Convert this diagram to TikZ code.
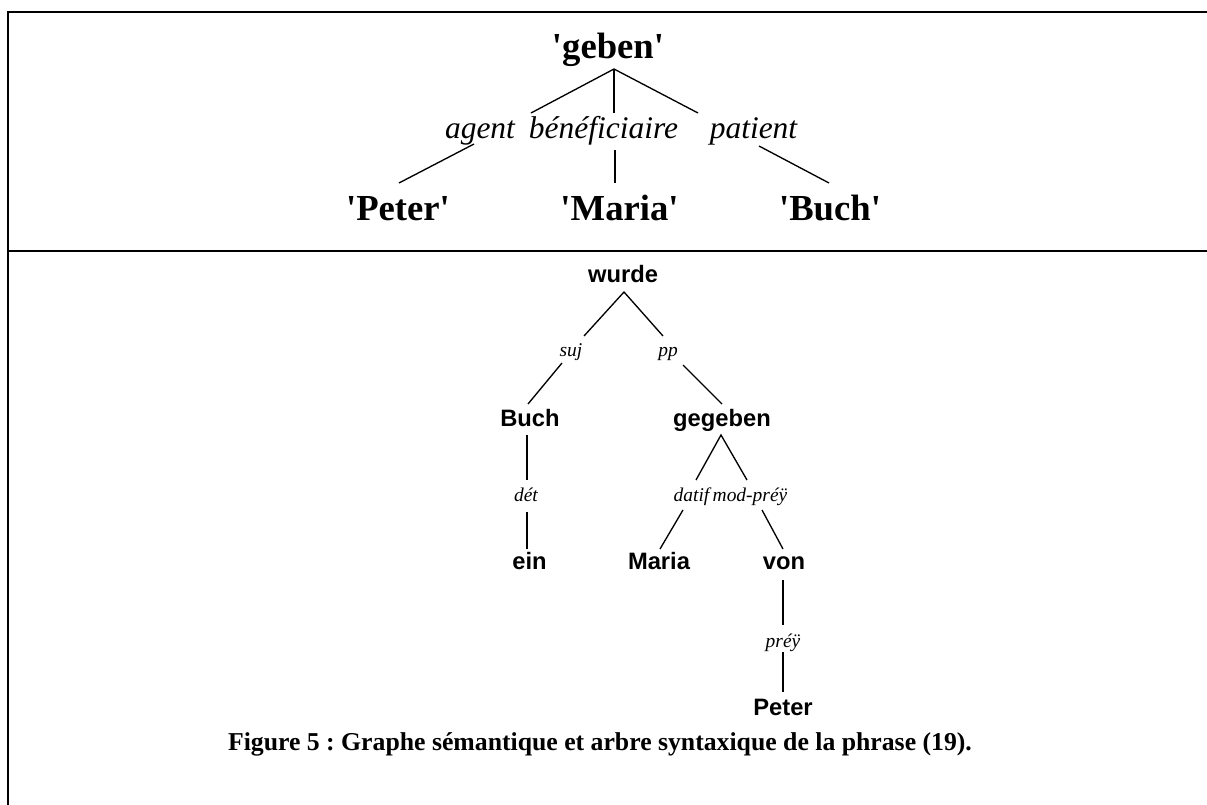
\documentclass[tikz,border=0pt]{standalone}
\usepackage{fontspec}
\setmainfont{Liberation Serif}
% plain families (no TeX ligatures) keep the straight quotes
\newfontfamily\timesfont{Liberation Serif}
\newfontfamily\arialfont{Liberation Sans}
\frenchspacing

\begin{document}
\begin{tikzpicture}[x=0.75pt,y=-0.75pt,
  sem/.style={font=\timesfont\fontsize{27.5}{30}\selectfont\bfseries, inner sep=0pt, anchor=base},
  semrel/.style={font=\timesfont\fontsize{23.6}{26}\selectfont\itshape, inner sep=0pt, anchor=base},
  syn/.style={font=\arialfont\fontsize{17.8}{20}\selectfont\bfseries, inner sep=0pt, anchor=base},
  synrel/.style={font=\timesfont\fontsize{14.6}{16}\selectfont\itshape, inner sep=0pt, anchor=base},
  caption/.style={font=\timesfont\fontsize{19.3}{22}\selectfont\bfseries, inner sep=0pt, anchor=base},
  edge/.style={line width=1pt},
  frame/.style={line width=1.4pt}]
\useasboundingbox (0,0) rectangle (1207,805);
\fill[white] (0,0) rectangle (1207,805);

% frame of the two panels
\draw[frame] (1207,12.3) -- (7.7,12.3) -- (7.7,805);
\draw[frame] (7.7,251) -- (1207,251);

% ---- semantic graph ----
\node[sem] (geben) at (608,59) {'geben'};
\node[sem] (peter) at (398,221) {'Peter'};
\node[sem] (maria) at (619.5,221) {'Maria'};
\node[sem] (buch)  at (830,221) {'Buch'};
\node[semrel] (agent) at (480,139) {agent};
\node[semrel] (benef) at (603.5,139) {bénéficiaire};
\node[semrel] (patient) at (753.5,139) {patient};

\coordinate (g-top) at (614,69);
\coordinate (ag-in) at (531,113);
\coordinate (be-in) at (614,113);
\coordinate (pa-in) at (698,113);
\coordinate (ag-out) at (474,144);
\coordinate (be-out) at (615,150);
\coordinate (pa-out) at (759,146);
\coordinate (pe-in) at (399,183);
\coordinate (ma-in) at (615,183);
\coordinate (bu-in) at (829,183);

\draw[edge] (ag-in) -- (g-top) -- (pa-in);
\draw[edge] (g-top) -- (be-in);
\draw[edge] (ag-out) -- (pe-in);
\draw[edge] (be-out) -- (ma-in);
\draw[edge] (pa-out) -- (bu-in);

% ---- syntactic tree ----
\node[syn] (wurde)   at (623,283) {wurde};
\node[syn] (sbuch)   at (530,427) {Buch};
\node[syn] (gegeben) at (722,427) {gegeben};
\node[syn] (ein)     at (529.5,569) {ein};
\node[syn] (smaria)  at (659,569) {Maria};
\node[syn] (von)     at (784,569) {von};
\node[syn] (speter)  at (783,715) {Peter};

\node[synrel] (suj)   at (571,357) {suj};
\node[synrel] (pp)    at (668,357) {pp};
\node[synrel] (det)   at (526,502) {dét};
\node[synrel] (datif) at (691.5,502) {datif};
\node[synrel] (modp)  at (750,502) {mod-préÿ};
\node[synrel] (prep)  at (783,647) {préÿ};

\coordinate (w-top) at (624,292);
\coordinate (suj-in) at (584,336);
\coordinate (pp-in) at (663,336);
\coordinate (suj-out) at (562,363);
\coordinate (pp-out) at (683,365);
\coordinate (b-in) at (528,404);
\coordinate (gg-in) at (722,404);
\coordinate (b-out) at (527,435);
\coordinate (det-in) at (527,480);
\coordinate (det-out) at (527,512);
\coordinate (ein-in) at (527,549);
\coordinate (gg-top) at (721,435);
\coordinate (dat-in) at (696,480);
\coordinate (mod-in) at (747,480);
\coordinate (dat-out) at (683,510);
\coordinate (mod-out) at (762,510);
\coordinate (ma-in2) at (660,549);
\coordinate (von-in) at (783,549);
\coordinate (von-out) at (783,580);
\coordinate (prep-in) at (783,625);
\coordinate (prep-out) at (783,652);
\coordinate (pet-in) at (783,692);

\draw[edge] (suj-in) -- (w-top) -- (pp-in);
\draw[edge] (suj-out) -- (b-in);
\draw[edge] (pp-out) -- (gg-in);
\draw[edge] (b-out) -- (det-in);
\draw[edge] (det-out) -- (ein-in);
\draw[edge] (dat-in) -- (gg-top) -- (mod-in);
\draw[edge] (dat-out) -- (ma-in2);
\draw[edge] (mod-out) -- (von-in);
\draw[edge] (von-out) -- (prep-in);
\draw[edge] (prep-out) -- (pet-in);

% ---- caption ----
\node[caption] (cap) at (600,750) {Figure 5 : Graphe sémantique et arbre syntaxique de la phrase (19).};
\end{tikzpicture}
\end{document}
